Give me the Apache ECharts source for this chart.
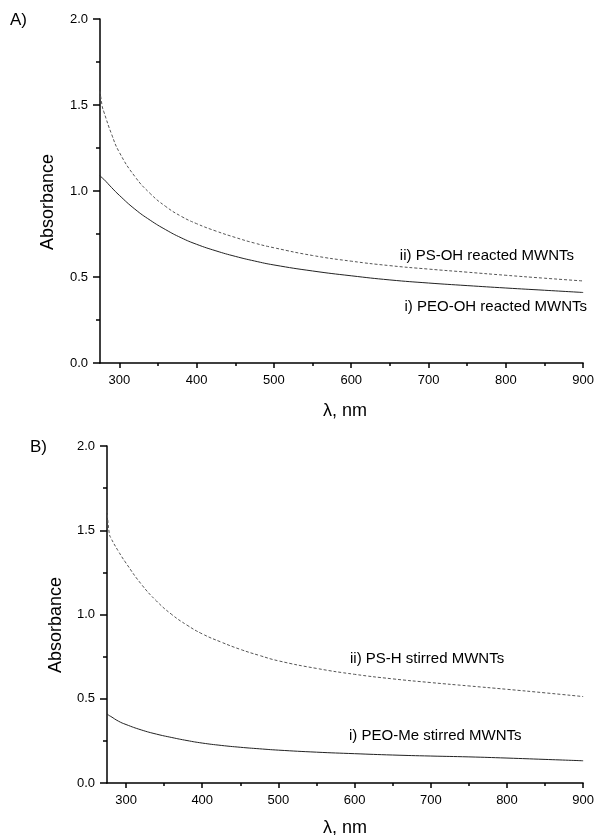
<!DOCTYPE html>
<html>
<head>
<meta charset="utf-8">
<script src="https://cdn.jsdelivr.net/npm/echarts@6/dist/echarts.min.js"></script>
<style>
  html, body { margin: 0; padding: 0; background: #fff; }
  #chart { width: 597px; height: 835px; }
</style>
</head>
<body>
<div id="chart"></div>
<script>
// wavelength grid (nm) shared by both panels
const wavelengths = [275, 278, 280, 290, 300, 320, 340, 360, 380, 400, 425, 450, 475, 500, 550, 600, 650, 700, 750, 800, 850, 900]

// panel A
const peoOH = [1.09, 1.075, 1.068, 1.02, 0.975, 0.895, 0.83, 0.775, 0.728, 0.69, 0.652, 0.62, 0.593, 0.57, 0.535, 0.507, 0.483, 0.465, 0.45, 0.436, 0.423, 0.41]
const psOH = [1.58, 1.49, 1.46, 1.33, 1.225, 1.085, 0.985, 0.91, 0.853, 0.81, 0.767, 0.73, 0.697, 0.67, 0.625, 0.592, 0.566, 0.546, 0.528, 0.51, 0.493, 0.477]

// panel B
const peoMe = [0.41, 0.4, 0.395, 0.367, 0.347, 0.315, 0.29, 0.27, 0.252, 0.237, 0.223, 0.212, 0.203, 0.195, 0.183, 0.174, 0.166, 0.16, 0.155, 0.148, 0.14, 0.132]
const psH = [1.62, 1.48, 1.455, 1.375, 1.305, 1.18, 1.08, 1.0, 0.937, 0.885, 0.836, 0.793, 0.757, 0.725, 0.68, 0.645, 0.618, 0.596, 0.576, 0.556, 0.535, 0.513]

const xMajor = [300, 400, 500, 600, 700, 800, 900]
const xMinor = [350, 450, 550, 650, 750, 850]

const font = '"Liberation Sans", Arial, sans-serif'
const pair = (ys) => wavelengths.map((x, i) => [x, ys[i]])

const xMain = (gridIndex) => ({
  type: 'value',
  gridIndex,
  min: 275,
  max: 900,
  axisLine: { show: true, onZero: false, lineStyle: { color: '#000', width: 1.5 } },
  axisTick: { show: true, customValues: xMajor, length: 5, lineStyle: { color: '#000', width: 1.5 } },
  axisLabel: { customValues: xMajor, color: '#000', fontSize: 13, fontFamily: font, margin: 11 },
  splitLine: { show: false }
})

const xMinorAxis = (gridIndex) => ({
  type: 'value',
  gridIndex,
  min: 275,
  max: 900,
  position: 'bottom',
  axisLine: { show: false },
  axisTick: { show: true, customValues: xMinor, length: 3, lineStyle: { color: '#000', width: 1.5 } },
  axisLabel: { show: false },
  splitLine: { show: false }
})

const yAxis = (gridIndex) => ({
  type: 'value',
  gridIndex,
  min: 0,
  max: 2,
  interval: 0.5,
  axisLine: { show: true, lineStyle: { color: '#000', width: 1.5 } },
  axisTick: { show: true, length: 7, lineStyle: { color: '#000', width: 1.5 } },
  minorTick: { show: true, splitNumber: 2, length: 4, lineStyle: { color: '#000', width: 1.5 } },
  axisLabel: { color: '#000', fontSize: 13, fontFamily: font, margin: 12, formatter: v => v.toFixed(1) },
  splitLine: { show: false },
  minorSplitLine: { show: false }
})

const curve = (data, xAxisIndex, yAxisIndex, dashed) => ({
  type: 'line',
  data,
  xAxisIndex,
  yAxisIndex,
  showSymbol: false,
  smooth: 0.5,
  silent: true,
  lineStyle: dashed
    ? { color: '#555', width: 1, type: [3, 2] }
    : { color: '#222', width: 1 }
})

const txt = (text, x, y, size, extra) => ({
  type: 'text',
  x, y,
  style: Object.assign({ text, fill: '#000', fontSize: size, fontFamily: font, textVerticalAlign: 'middle' }, extra || {})
})

const vtxt = (text, x, y) => Object.assign(txt(text, x, y, 18, { textAlign: 'center' }), { rotation: Math.PI / 2 })

const chart = echarts.init(document.getElementById('chart'))
chart.setOption({
  animation: false,
  backgroundColor: '#fff',
  grid: [
    { left: 100, right: 12, top: 19, height: 344 },
    { left: 107, right: 12, top: 446, height: 337 }
  ],
  xAxis: [xMain(0), xMinorAxis(0), xMain(1), xMinorAxis(1)],
  yAxis: [yAxis(0), yAxis(1)],
  series: [
    curve(pair(peoOH), 0, 0, false),
    curve(pair(psOH), 0, 0, true),
    curve(pair(peoMe), 2, 1, false),
    curve(pair(psH), 2, 1, true)
  ],
  graphic: [
    txt('A)', 10, 20, 17),
    txt('B)', 30, 447, 17),
    vtxt('Absorbance', 48, 202),
    vtxt('Absorbance', 56, 625),
    txt('λ, nm', 345, 411, 18, { textAlign: 'center' }),
    txt('λ, nm', 345, 828, 18, { textAlign: 'center' }),
    txt('ii) PS-OH reacted MWNTs', 574, 256, 15, { textAlign: 'right' }),
    txt('i) PEO-OH reacted MWNTs', 587, 307, 15, { textAlign: 'right' }),
    txt('ii) PS-H stirred MWNTs', 350, 659, 15, { textAlign: 'left' }),
    txt('i) PEO-Me stirred MWNTs', 349, 736, 15, { textAlign: 'left' })
  ]
})
</script>
</body>
</html>
